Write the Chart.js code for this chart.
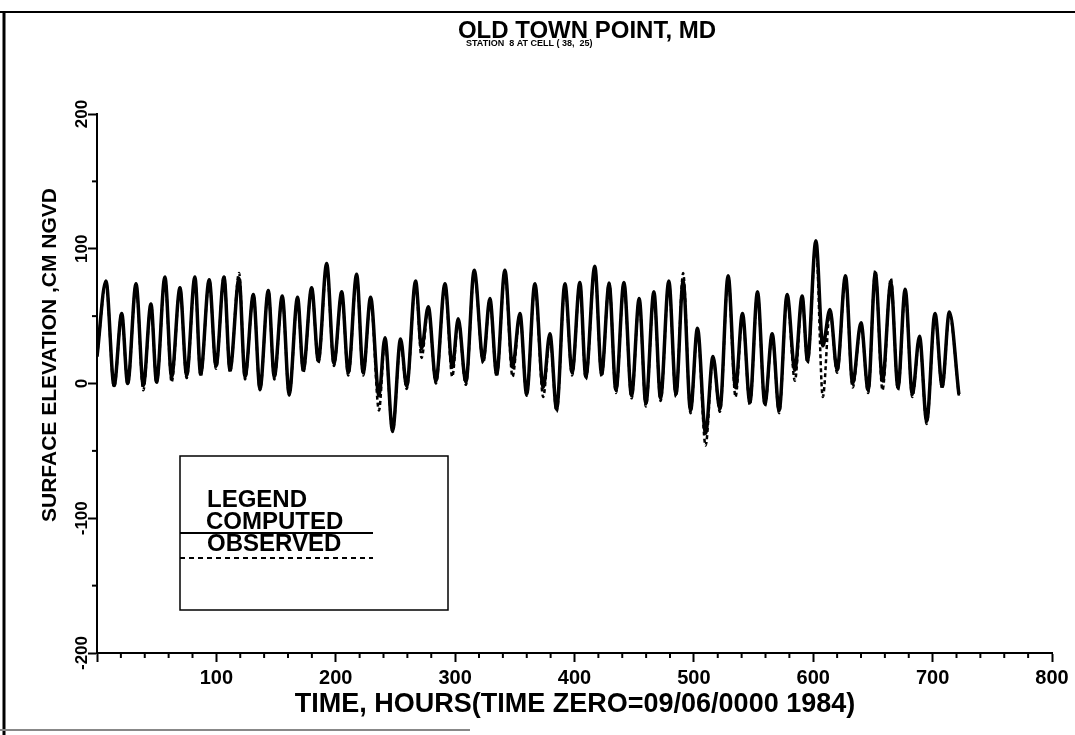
<!DOCTYPE html>
<html>
<head>
<meta charset="utf-8">
<script src="https://cdn.jsdelivr.net/npm/chart.js@4"></script>
<style>
  body { margin: 0; background: #fff; }
  #wrap { width: 1075px; height: 735px; }
</style>
</head>
<body>
<div id="wrap"><canvas id="myChart" width="1075" height="735"></canvas></div>
<script>
//Times (hours) of each high and low water.
const hours = [0, 7.5, 14.3, 20.7, 25.7, 32.7, 38.8, 45.2, 49.9, 56.9,
  62.5, 69.5, 75.1, 82, 86.8, 94, 99.7, 106.4, 111.4, 119,
  124, 131, 136.5, 143.5, 148.5, 155.2, 161, 168, 172.8, 179.8,
  185.4, 192.4, 198.5, 205, 210.5, 217.5, 223, 229.2, 236.2, 241.2,
  247.6, 254.3, 259.4, 266.9, 271.9, 277.5, 283.9, 291.5, 297.6, 302.6,
  309, 316, 323.5, 329.1, 334.8, 341.7, 348.1, 354.3, 359.9, 366.8,
  373.8, 379.4, 385, 392, 398, 404.5, 409.5, 417, 422.7, 429,
  434.7, 441.4, 447.8, 454.2, 459.8, 466.5, 472.1, 479, 485, 491,
  497.2, 503, 509.8, 516, 521.8, 528.7, 534.9, 540.7, 546.9, 553.3,
  559.5, 565.6, 571.4, 578.1, 584.6, 590.7, 595.2, 602.2, 608, 614,
  620, 627, 633, 640, 646, 652, 658, 665, 671, 677,
  683, 689, 695, 702, 708, 714, 722];

//Computed surface elevation (cm) at those times.
const computed = [20, 76, -1.5, 52, 0, 74, -1.5, 59, 1, 79,
  5, 71, 6, 79, 7, 77, 13, 79, 10, 78,
  5, 66, -4, 69, 5, 65, -8, 64, 10, 71,
  17, 89, 15, 68, 8, 81, 8, 64, -9, 34,
  -35, 33, -2, 76, 26, 57, 2, 74, 12, 48,
  1, 84, 17, 63, 7, 84, 12, 52, -8, 74,
  -3, 37, -19, 74, 8, 75, 5, 87, 7, 74,
  -5, 75, -9, 63, -15, 68, -11, 76, -8, 76,
  -20, 41, -37, 20, -19, 80, -3, 52, -14, 68,
  -15, 37, -20, 66, 10, 65, 17, 106, 28, 55,
  10, 80, 0, 45, -5, 82, 2, 75, -3, 70,
  -8, 35, -28, 52, -2, 53, -8];

//Observed surface elevation (cm) at the same times.
const observed = [20, 75, -3, 52, -1, 73, -5, 59, 0, 78,
  1, 71, 4, 78, 5, 77, 11, 80, 8, 82,
  3, 66, -5, 69, 3, 64, -9, 63, 8, 71,
  15, 87, 13, 67, 6, 80, 6, 63, -20, 32,
  -36, 31, -4, 75, 19, 56, 0, 73, 5, 47,
  -1, 83, 15, 62, 5, 83, 5, 51, -9, 73,
  -10, 35, -21, 73, 6, 74, 3, 86, 5, 75,
  -7, 74, -11, 62, -17, 67, -13, 75, -10, 82,
  -22, 40, -46, 19, -21, 79, -10, 51, -16, 67,
  -17, 36, -22, 65, 2, 64, 15, 104, -10, 54,
  8, 79, -3, 44, -7, 84, -5, 78, -5, 69,
  -10, 34, -30, 51, -4, 52, -9];

const xLabels = [100, 200, 300, 400, 500, 600, 700, 800];
const yLabels = [200, 100, 0, -100, -200];

const FONT = "'Liberation Sans', Arial, sans-serif";

//Titles, rotated y labels, legend box and minor ticks.
const textPlugin = {
  id: 'texts',
  afterDraw(chart) {
    const c = chart.ctx;
    const xs = chart.scales.x;
    const ys = chart.scales.y;
    c.save();
    c.fillStyle = '#000';
    c.strokeStyle = '#000';

    //page frame
    c.lineWidth = 2;
    c.beginPath(); c.moveTo(0, 12); c.lineTo(1075, 12); c.stroke();
    c.lineWidth = 3;
    c.beginPath(); c.moveTo(4, 12); c.lineTo(4, 735); c.stroke();
    c.strokeStyle = '#888';
    c.lineWidth = 2;
    c.beginPath(); c.moveTo(0, 730); c.lineTo(470, 730); c.stroke();
    c.strokeStyle = '#000';

    //minor ticks
    c.lineWidth = 2;
    for (let v = 0; v <= 800; v += 20) {
      if (v % 100 === 0) continue;
      const px = xs.getPixelForValue(v);
      c.beginPath(); c.moveTo(px, xs.top); c.lineTo(px, xs.top + 5); c.stroke();
    }
    for (let v = -150; v <= 150; v += 100) {
      const py = ys.getPixelForValue(v);
      c.beginPath(); c.moveTo(ys.right, py); c.lineTo(ys.right - 5, py); c.stroke();
    }

    //title
    c.textBaseline = 'alphabetic';
    c.textAlign = 'center';
    c.font = 'bold 24px ' + FONT;
    c.fillText('OLD TOWN POINT, MD', 587, 38);
    c.textAlign = 'left';
    c.font = 'bold 9px ' + FONT;
    c.fillText('STATION  8 AT CELL ( 38,  25)', 466, 46);

    //x title
    c.textAlign = 'center';
    c.font = 'bold 27px ' + FONT;
    c.fillText('TIME, HOURS(TIME ZERO=09/06/0000 1984)', 575, 712);

    //y tick labels + title
    c.textBaseline = 'middle';
    c.font = 'bold 17px ' + FONT;
    yLabels.forEach(v => {
      c.save();
      c.translate(82, ys.getPixelForValue(v));
      c.rotate(-Math.PI / 2);
      c.fillText(String(v), 0, 0);
      c.restore();
    });
    c.save();
    c.translate(50, 355);
    c.rotate(-Math.PI / 2);
    c.font = 'bold 21px ' + FONT;
    c.fillText('SURFACE ELEVATION ,CM NGVD', 0, 0);
    c.restore();

    //legend
    c.lineWidth = 1.5;
    c.strokeRect(180, 456, 268, 154);
    c.textAlign = 'left';
    c.textBaseline = 'alphabetic';
    c.font = 'bold 24px ' + FONT;
    c.fillText('LEGEND', 207, 507);
    c.fillText('COMPUTED', 206, 529);
    c.fillText('OBSERVED', 207, 551);
    c.lineWidth = 2;
    c.beginPath(); c.moveTo(180, 533); c.lineTo(373, 533); c.stroke();
    c.setLineDash([5, 4]);
    c.beginPath(); c.moveTo(180, 558); c.lineTo(373, 558); c.stroke();
    c.restore();
  }
};

const ctx = document.getElementById('myChart');

new Chart(ctx, {
  type: 'line',
  data: {
    datasets: [{
      label: 'COMPUTED',
      data: hours.map((h, i) => ({ x: h, y: computed[i] })),
      borderColor: '#000',
      borderWidth: 3.5,
      pointRadius: 0,
      cubicInterpolationMode: 'monotone',
      fill: false
    }, {
      label: 'OBSERVED',
      data: hours.map((h, i) => ({ x: h, y: observed[i] })),
      borderColor: '#000',
      borderWidth: 2.5,
      borderDash: [4, 3],
      pointRadius: 0,
      cubicInterpolationMode: 'monotone',
      fill: false
    }]
  },
  options: {
    responsive: false,
    animation: false,
    layout: { padding: { top: 114, right: 23, left: 0, bottom: 0 } },
    plugins: {
      legend: { display: false },
      tooltip: { enabled: false }
    },
    scales: {
      x: {
        type: 'linear',
        min: 0,
        max: 800,
        afterBuildTicks: s => { s.ticks = [0].concat(xLabels).map(v => ({ value: v })); },
        ticks: {
          autoSkip: false,
          maxRotation: 0,
          color: '#000',
          padding: 4,
          font: { family: FONT, size: 20, weight: 'bold' },
          callback: v => (v === 0 ? '' : v)
        },
        grid: { drawOnChartArea: false, color: '#000', tickLength: 9, tickWidth: 2 },
        border: { color: '#000', width: 2 },
        afterFit: s => { s.height = 735 - 653; }
      },
      y: {
        min: -200,
        max: 200,
        afterBuildTicks: s => { s.ticks = yLabels.map(v => ({ value: v })); },
        ticks: { display: false },
        grid: { drawOnChartArea: false, color: '#000', tickLength: 9, tickWidth: 2 },
        border: { color: '#000', width: 2 },
        afterFit: s => { s.width = 97; }
      }
    }
  },
  plugins: [textPlugin]
});
</script>
</body>
</html>
